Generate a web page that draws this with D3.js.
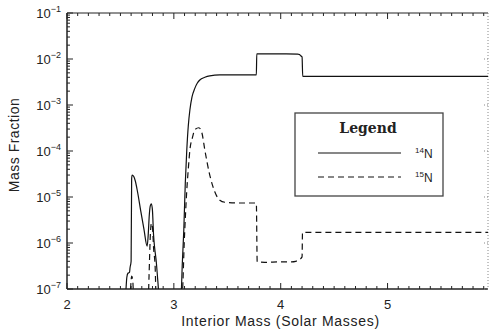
<!DOCTYPE html>
<html>
<head>
<meta charset="utf-8">
<script src="https://cdn.jsdelivr.net/npm/d3@7"></script>
<style>
body{margin:0;background:#fff;}
text{font-family:"Liberation Sans",Arial,sans-serif;fill:#222;}
</style>
</head>
<body>
<svg id="chart" width="490" height="330"></svg>
<script>
// 14N abundance along the interior mass
const n14Mass = [2.55,2.56,2.57,2.585,2.59,2.6,2.605,2.61,2.625,2.64,2.66,2.69,2.72,2.75,2.76,2.77,2.78,2.79,2.80,2.81,2.82,2.835,2.85,2.865,
	3.065,3.08,3.093,3.107,3.121,3.135,3.15,3.17,3.196,3.22,3.243,3.29,3.336,3.43,3.6,3.772,3.776,3.9,4.05,4.159,4.175,4.187,4.2,4.206,4.5,5.0,5.5,5.94];
const n14Frac = [8e-8,1.8e-7,2.2e-7,2.3e-7,2.9e-7,4e-7,2.5e-5,3.0e-5,2.8e-5,2.2e-5,1.3e-5,5e-6,2e-6,8.5e-7,1.5e-6,4e-6,6.5e-6,7.1e-6,5e-6,1.5e-6,8e-7,4e-7,1.5e-7,6e-8,
	6e-8,4e-7,1.9e-6,2e-5,1.05e-4,3.5e-4,7.8e-4,1.5e-3,2.3e-3,3.0e-3,3.5e-3,4.0e-3,4.3e-3,4.5e-3,4.5e-3,4.5e-3,1.29e-2,1.29e-2,1.29e-2,1.28e-2,1.25e-2,1.18e-2,1.1e-2,4.2e-3,4.2e-3,4.2e-3,4.2e-3,4.2e-3];

// 15N abundance along the interior mass
const n15Mass = [2.59,2.597,2.605,2.615,2.625,2.76,2.768,2.78,2.79,2.80,2.81,2.825,2.835,
	3.075,3.1,3.121,3.135,3.15,3.175,3.196,3.234,3.262,3.29,3.336,3.383,3.43,3.477,3.6,3.772,3.78,3.85,4.0,4.103,4.14,4.17,4.2,4.204,4.5,5.0,5.5,5.94];
const n15Frac = [6e-8,1.2e-7,1.9e-7,1.6e-7,6e-8,6e-8,2e-7,1.5e-6,2.7e-6,2.2e-6,8e-7,3e-7,6e-8,
	6e-8,1.5e-6,1.4e-5,4e-5,1.05e-4,2.0e-4,2.9e-4,3.2e-4,2.5e-4,1.05e-4,3.0e-5,1.3e-5,8.5e-6,7.7e-6,7.4e-6,7.4e-6,3.9e-7,3.8e-7,3.9e-7,3.9e-7,4.0e-7,4.3e-7,5e-7,1.7e-6,1.7e-6,1.7e-6,1.7e-6,1.7e-6];

const xTicks = [2,3,4,5];
const yTicks = [1e-7,1e-6,1e-5,1e-4,1e-3,1e-2,1e-1];
const legendNames = ["14","15"];

var svg = d3.select("#chart");
var pLeft = 67, pRight = 488, pTop = 13, pBottom = 289;

var x = d3.scaleLinear().domain([2,5.94]).range([pLeft,pRight]);
var y = d3.scaleLog().domain([1e-7,1e-1]).range([pBottom,pTop]);

svg.append("clipPath").attr("id","plotclip")
	.append("rect").attr("x",pLeft).attr("y",pTop).attr("width",pRight-pLeft).attr("height",pBottom-pTop);

// minor ticks
var xMinor = d3.range(20,60).map(d=>d/10).filter(d=>d<=5.94 && Math.abs(d-Math.round(d))>1e-6);
var yMinor = [];
yTicks.slice(0,-1).forEach(t=>{ for (let k=2;k<10;k++) yMinor.push(t*k); });

var ax = svg.append("g").attr("stroke","#222").attr("stroke-width",1);

// bottom / top ticks
xTicks.forEach(t=>{
	ax.append("line").attr("x1",x(t)).attr("x2",x(t)).attr("y1",pBottom).attr("y2",pBottom-6);
	ax.append("line").attr("x1",x(t)).attr("x2",x(t)).attr("y1",pTop).attr("y2",pTop+6);
});
xMinor.forEach(t=>{
	ax.append("line").attr("x1",x(t)).attr("x2",x(t)).attr("y1",pBottom).attr("y2",pBottom-3);
	ax.append("line").attr("x1",x(t)).attr("x2",x(t)).attr("y1",pTop).attr("y2",pTop+3);
});
// left ticks
yTicks.forEach(t=>{
	ax.append("line").attr("x1",pLeft).attr("x2",pLeft+6).attr("y1",y(t)).attr("y2",y(t));
});
yMinor.forEach(t=>{
	ax.append("line").attr("x1",pLeft).attr("x2",pLeft+3).attr("y1",y(t)).attr("y2",y(t));
});
// right dotted axis
var rax = svg.append("g").attr("stroke","#888").attr("stroke-width",1).attr("stroke-dasharray","1,2");
rax.append("line").attr("x1",pRight).attr("x2",pRight).attr("y1",pTop).attr("y2",pBottom);
yTicks.forEach(t=>{
	rax.append("line").attr("x1",pRight).attr("x2",pRight-6).attr("y1",y(t)).attr("y2",y(t));
});

ax.append("line").attr("x1",pLeft).attr("x2",pRight).attr("y1",pBottom).attr("y2",pBottom).attr("stroke-width",1.5);
ax.append("line").attr("x1",pLeft).attr("x2",pRight).attr("y1",pTop).attr("y2",pTop);
ax.append("line").attr("x1",pLeft).attr("x2",pLeft).attr("y1",pTop).attr("y2",pBottom).attr("stroke-width",1.5);

// tick labels
svg.selectAll(".xl").data(xTicks).join("text")
	.attr("x",d=>x(d)).attr("y",pBottom+20).attr("text-anchor","middle")
	.attr("font-size",13).text(d=>d);

var yl = svg.selectAll(".yl").data(yTicks).join("text")
	.attr("x",pLeft-6).attr("y",d=>y(d)+5).attr("text-anchor","end").attr("font-size",13);
yl.append("tspan").text("10");
yl.append("tspan").attr("dy",-6).attr("font-size",9).text(d=>"\u2212"+Math.round(-Math.log10(d)));

svg.append("text").attr("x",(pLeft+pRight)/2+3).attr("y",326).attr("text-anchor","middle")
	.attr("font-size",14).attr("letter-spacing",0.7).text("Interior Mass (Solar Masses)");
svg.append("text").attr("transform","translate(19,145) rotate(-90)")
	.attr("text-anchor","middle").attr("font-size",14).attr("letter-spacing",0.5).text("Mass Fraction");

// curves
var plot = svg.append("g").attr("clip-path","url(#plotclip)");
var line = d3.line().x(d=>x(d[0])).y(d=>y(d[1])).curve(d3.curveMonotoneX);

function drawSegments(mass, frac, dash){
	var pts = mass.map((m,i)=>[m,frac[i]]);
	plot.append("path").attr("d",line(pts)).attr("fill","none")
		.attr("stroke","#111").attr("stroke-width",1.2)
		.attr("stroke-dasharray",dash);
}
drawSegments(n14Mass,n14Frac,null);
drawSegments(n15Mass,n15Frac,"6,4");

// legend
var lg = svg.append("g");
lg.append("rect").attr("x",295).attr("y",113).attr("width",148).attr("height",83)
	.attr("fill","#fff").attr("stroke","#444").attr("stroke-width",1.3);
lg.append("text").attr("x",368).attr("y",133).attr("text-anchor","middle")
	.style("font-family","'DejaVu Serif','Liberation Serif',serif").attr("font-weight","bold")
	.attr("font-size",14).text("Legend");
legendNames.forEach((n,i)=>{
	var ly = 153 + i*24;
	lg.append("line").attr("x1",318).attr("x2",401).attr("y1",ly).attr("y2",ly)
		.attr("stroke","#111").attr("stroke-width",1.2).attr("stroke-dasharray",i?"6,4":null);
	var t = lg.append("text").attr("x",415).attr("y",ly+5).attr("font-size",12);
	t.append("tspan").attr("dy",-5).attr("font-size",8).text(n);
	t.append("tspan").attr("dy",5).text("N");
});
</script>
</body>
</html>
